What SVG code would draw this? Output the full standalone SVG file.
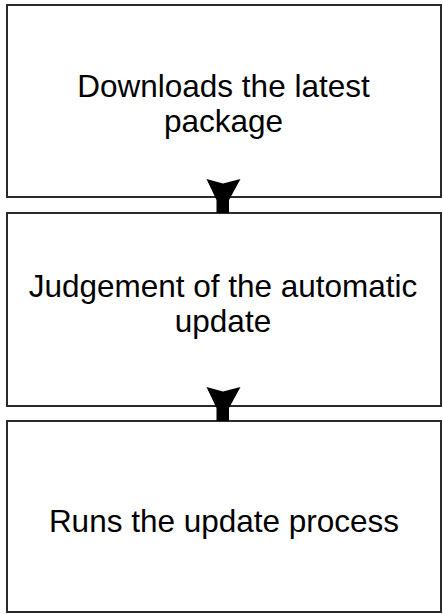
<svg xmlns="http://www.w3.org/2000/svg" xmlns:xlink="http://www.w3.org/1999/xlink" width="443" height="614" viewBox="0 0 443 614">
  <style>
    .box { fill: #ffffff; stroke: #2a2a2a; stroke-width: 2; }
    .label { font-family: "Liberation Sans", Arial, sans-serif; font-size: 31.5px; fill: #000000; text-anchor: middle; }
    .arrow { fill: #000000; stroke: none; }
  </style>
  <defs>
    <path id="funnel" d="M-16.5,0 L0,4.5 L17.5,0 L6,21 L6,34 L-6.5,34 L-6.5,21 Z"/>
  </defs>
  <rect width="443" height="614" fill="#ffffff"/>
  <g id="node-download">
    <rect class="box" x="7" y="5" width="434" height="192"/>
    <text class="label" x="223.5" y="97">Downloads the latest</text>
    <text class="label" x="223.5" y="132">package</text>
  </g>
  <g id="node-judgement">
    <rect class="box" x="7" y="213" width="434" height="193"/>
    <text class="label" x="223" y="297">Judgement of the automatic</text>
    <text class="label" x="223" y="332">update</text>
  </g>
  <g id="node-run">
    <rect class="box" x="7" y="421" width="434" height="191"/>
    <text class="label" x="224" y="532">Runs the update process</text>
  </g>
  <g id="connectors">
    <use class="arrow" xlink:href="#funnel" href="#funnel" x="223" y="179"/>
    <use class="arrow" xlink:href="#funnel" href="#funnel" x="223" y="387"/>
  </g>
</svg>
